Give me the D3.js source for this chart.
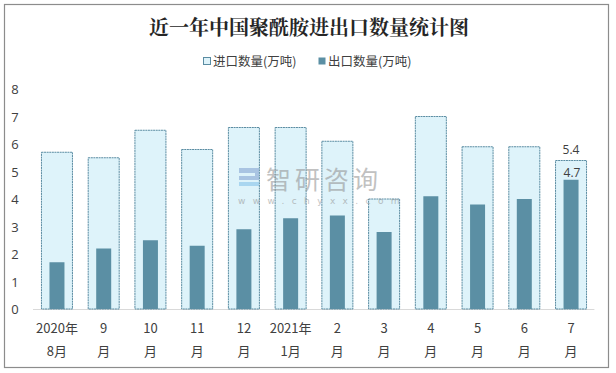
<!DOCTYPE html>
<html>
<head>
    <meta charset="utf-8">
    <script src="https://d3js.org/d3.v7.min.js"></script>
    <style>
        body { margin: 0; background: #fff; }
        .tick-label { font-family: "Open Sans", "Noto Sans CJK SC", sans-serif; font-size: 13px; fill: #404040; }
    </style>
</head>
<body>
    <svg width="616" height="373"></svg>
    <script>
        var months = ["2020年|8月", "9|月", "10|月", "11|月", "12|月", "2021年|1月", "2|月", "3|月", "4|月", "5|月", "6|月", "7|月"];
        var importQty = [5.7, 5.5, 6.5, 5.8, 6.6, 6.6, 6.1, 4.0, 7.0, 5.9, 5.9, 5.4];
        var exportQty = [1.7, 2.2, 2.5, 2.3, 2.9, 3.3, 3.4, 2.8, 4.1, 3.8, 4.0, 4.7];
        var yTicks = [0, 1, 2, 3, 4, 5, 6, 7, 8];

        var svg = d3.select("svg");
        var cjk = "'Noto Sans CJK SC', sans-serif";

        // outer frame
        svg.append("rect")
           .attr("x", 4.5).attr("y", 4.5)
           .attr("width", 604).attr("height", 363)
           .attr("fill", "#fff").attr("stroke", "#8c8c8c").attr("stroke-width", 1.2);

        svg.append("text")
           .attr("x", 309).attr("y", 35)
           .attr("text-anchor", "middle")
           .attr("font-family", "'Noto Serif CJK SC', 'Noto Sans CJK SC', serif")
           .attr("font-weight", "bold").attr("font-size", 20)
           .attr("fill", "#262626")
           .text("近一年中国聚酰胺进出口数量统计图");

        var x = d3.scaleBand().domain(d3.range(months.length)).range([33.6, 594.4]);
        var y = d3.scaleLinear().domain([0, 8]).range([309, 89]);

        // baseline
        svg.append("line")
           .attr("x1", 33).attr("x2", 594.4)
           .attr("y1", y(0) + 0.5).attr("y2", y(0) + 0.5)
           .attr("stroke", "#d9d9d9").attr("stroke-width", 1);

        var outerW = 31, innerW = 15;

        svg.selectAll(".imp")
           .data(importQty)
           .enter().append("rect")
           .attr("class", "imp")
           .attr("x", function(d, i) { return x(i) + x.bandwidth() / 2 - outerW / 2; })
           .attr("y", function(d) { return y(d); })
           .attr("width", outerW)
           .attr("height", function(d) { return y(0) - y(d); })
           .attr("fill", "#def3fa")
           .attr("stroke", "#5a8ca2").attr("stroke-width", 1)
           .attr("stroke-dasharray", "2,0.6");

        svg.selectAll(".exp")
           .data(exportQty)
           .enter().append("rect")
           .attr("class", "exp")
           .attr("x", function(d, i) { return x(i) + x.bandwidth() / 2 - innerW / 2; })
           .attr("y", function(d) { return y(d); })
           .attr("width", innerW)
           .attr("height", function(d) { return y(0) - y(d); })
           .attr("fill", "#5b8fa4");

        // watermark, drawn over the bars
        var wm = svg.append("g").attr("opacity", 0.55);
        wm.append("rect").attr("x", 239).attr("y", 168).attr("width", 20).attr("height", 5).attr("fill", "#7f9fd0");
        wm.append("rect").attr("x", 239).attr("y", 176).attr("width", 20).attr("height", 4).attr("fill", "#7f9fd0");
        wm.append("rect").attr("x", 239).attr("y", 182).attr("width", 20).attr("height", 4).attr("fill", "#7fc0e8");
        wm.append("rect").attr("x", 255).attr("y", 168).attr("width", 4).attr("height", 12).attr("fill", "#7f9fd0");
        wm.append("text").attr("x", 266).attr("y", 189)
          .attr("font-family", cjk).attr("font-size", 25).attr("fill", "#8f8f8f")
          .attr("letter-spacing", 4).text("智研咨询");
        wm.append("text").attr("x", 238).attr("y", 204)
          .attr("font-family", "'DejaVu Sans', sans-serif").attr("font-size", 9).attr("fill", "#8f8f8f")
          .attr("letter-spacing", 7.4).text("www.chyxx.com");

        // data labels for last month
        var last = months.length - 1;
        svg.append("text")
           .attr("x", x(last) + x.bandwidth() / 2).attr("y", y(importQty[last]) - 7)
           .attr("text-anchor", "middle").attr("class", "tick-label")
           .style("font-size", "12px")
           .text(importQty[last]);
        svg.append("text")
           .attr("x", x(last) + x.bandwidth() / 2 + 1).attr("y", y(exportQty[last]) - 3)
           .attr("text-anchor", "middle").attr("class", "tick-label")
           .style("font-size", "12px")
           .text(exportQty[last]);

        // y axis labels
        svg.selectAll(".ytick")
           .data(yTicks)
           .enter().append("text")
           .attr("class", "tick-label")
           .attr("x", 15).attr("y", function(d) { return y(d) + 5; })
           .attr("text-anchor", "middle")
           .text(function(d) { return d; });

        // x axis labels
        months.forEach(function(m, i) {
            var parts = m.split("|");
            var cx = x(i) + x.bandwidth() / 2;
            var t = svg.append("text")
               .attr("text-anchor", "middle")
               .attr("font-family", cjk).attr("font-size", 13)
               .attr("fill", "#404040");
            t.append("tspan").attr("x", cx).attr("y", 333).text(parts[0]);
            t.append("tspan").attr("x", cx).attr("y", 356).text(parts[1]);
        });

        // legend
        var legend = [
            {name: "进口数量(万吨)", fill: "#def3fa", stroke: "#5a8ca2", x: 203},
            {name: "出口数量(万吨)", fill: "#5b8fa4", stroke: "none", x: 318}
        ];
        legend.forEach(function(l) {
            svg.append("rect").attr("x", l.x + 0.5).attr("y", 57.5).attr("width", 7).attr("height", 7)
               .attr("fill", l.fill).attr("stroke", l.stroke);
            svg.append("text").attr("x", l.x + 10).attr("y", 66)
               .attr("font-family", cjk).attr("font-size", 12.5).attr("fill", "#404040")
               .text(l.name);
        });
    </script>
</body>
</html>
